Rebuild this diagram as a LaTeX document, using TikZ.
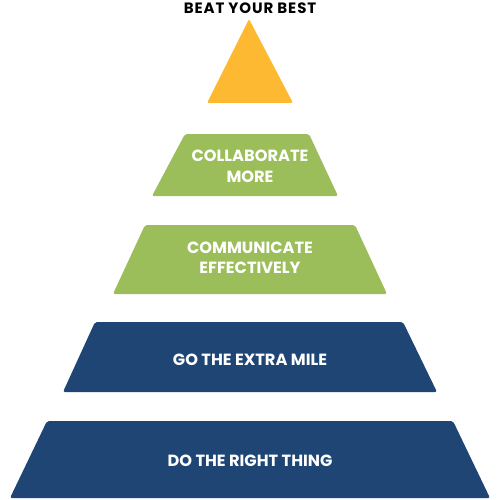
\documentclass[tikz,border=0pt]{standalone}
\usepackage{fontspec}
\setmainfont{Poppins}
\definecolor{pyellow}{RGB}{253,185,50}
\definecolor{pgreen}{RGB}{155,190,90}
\definecolor{pnavy}{RGB}{30,69,116}
\begin{document}
\begin{tikzpicture}[x=1pt,y=-1pt,
  tier/.style={rounded corners=2pt},
  lbl/.style={text=white,font=\fontsize{16.2}{20.5}\selectfont\bfseries,align=center,inner sep=0pt},
  ttl/.style={text=black,font=\fontsize{15}{16}\selectfont\bfseries\addfontfeatures{LetterSpace=6},inner sep=0pt}]
\useasboundingbox (0,0) rectangle (500,500);
\fill[pyellow,rounded corners=2pt] (249,19) -- (293,103) -- (207,103) -- cycle;
\fill[pgreen,tier] (185,134) -- (309,134) -- (338,196) -- (152,196) -- cycle;
\fill[pgreen,tier] (145,225) -- (355,225) -- (387,294) -- (113,294) -- cycle;
\fill[pnavy,tier] (95,322) -- (403,322) -- (437,392) -- (63,392) -- cycle;
\fill[pnavy,tier] (47,421) -- (453,421) -- (490,498) -- (10,498) -- cycle;
\node[ttl] (t0) at (250,8.5) {BEAT YOUR BEST};
\node[lbl] (t1) at (250,166.5) {COLLABORATE\\MORE};
\node[lbl] (t2) at (250,258) {COMMUNICATE\\EFFECTIVELY};
\node[lbl] (t3) at (250,360) {GO THE EXTRA MILE};
\node[lbl] (t4) at (250,461) {DO THE RIGHT THING};
\end{tikzpicture}
\end{document}
